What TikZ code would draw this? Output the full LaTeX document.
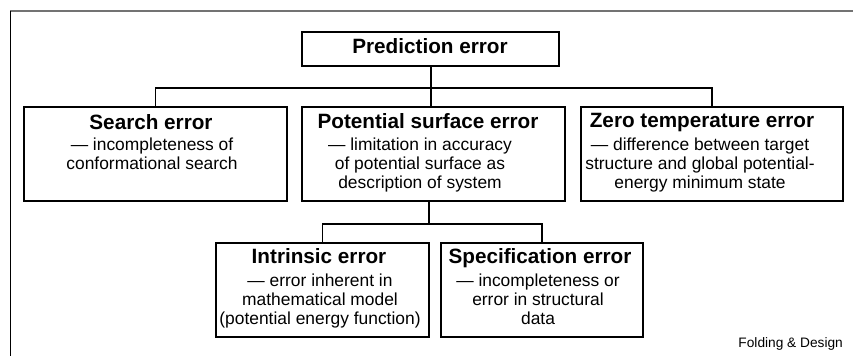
\documentclass[tikz,border=0pt]{standalone}
\usepackage{fontspec}
\setmainfont{Liberation Sans}
\begin{document}
\begin{tikzpicture}[x=1pt,y=-1pt,
  box/.style={draw=black,line width=1.6pt,rectangle,inner sep=0pt},
  ttl/.style={anchor=base,inner sep=0pt,font=\bfseries\fontsize{20.7}{24}\selectfont},
  bdy/.style={anchor=north,inner sep=0pt,align=center,font=\fontsize{17.4}{19}\selectfont},
  bus/.style={line width=1.7pt},
  stem/.style={line width=1.2pt}]
\useasboundingbox (0,0) rectangle (853,356);
% frame
\coordinate (frTL) at (10,11);
\coordinate (frTR) at (853,11);
\coordinate (frBL) at (10,356);
\draw[line width=1.6pt,draw=black!55] (frTL) -- (frTR);
\draw[line width=1pt] (frTL) -- (frBL);
% boxes
\node[box,minimum width=257pt,minimum height=34pt] (pred) at (430.5,49) {};
\node[box,minimum width=263pt,minimum height=94pt] (search) at (155.5,154) {};
\node[box,minimum width=263pt,minimum height=94pt] (pot) at (433.5,154) {};
\node[box,minimum width=262pt,minimum height=94pt] (zero) at (712,154) {};
\node[box,minimum width=213pt,minimum height=94pt] (intr) at (322.5,290) {};
\node[box,minimum width=202pt,minimum height=94pt] (spec) at (542,290) {};
% titles
\node[ttl] (predT) at (430,53.5) {Prediction error};
\node[ttl] (searchT) at (151,129) {Search error};
\node[ttl] (potT) at (428,128) {Potential surface error};
\node[ttl] (zeroT) at (702,127) {Zero temperature error};
\node[ttl] (intrT) at (319,263) {Intrinsic error};
\node[ttl] (specT) at (540,263) {Specification error};
% bodies
\node[bdy] (searchB) at (152,137.5) {— incompleteness of\\conformational search};
\node[bdy] (potB) at (420,137.5) {— limitation in accuracy\\of potential surface as\\description of system};
\node[bdy] (zeroB) at (700,137.5) {— difference between target\\structure and global potential-\\energy minimum state};
\node[bdy] (intrB) at (320,273.5) {— error inherent in\\mathematical model\\(potential energy function)};
\node[bdy] (specB) at (538,273.5) {— incompleteness or\\error in structural\\data};
% connectors
\coordinate (busA) at (431,88);
\draw[stem] (pred.south -| busA) -- (busA);
\draw[bus] (search.north) |- (busA) -| (zero.north);
\draw[stem] (busA) -- (busA |- pot.north);
\coordinate (busB) at (429,224);
\draw[stem] (busB |- pot.south) -- (busB);
\draw[bus] (intr.north) |- (busB) -| (spec.north);
% credit
\node[anchor=base east,inner sep=0pt,font=\fontsize{13.7}{16}\selectfont] (credit) at (843,347) {Folding \& Design};
\end{tikzpicture}
\end{document}
